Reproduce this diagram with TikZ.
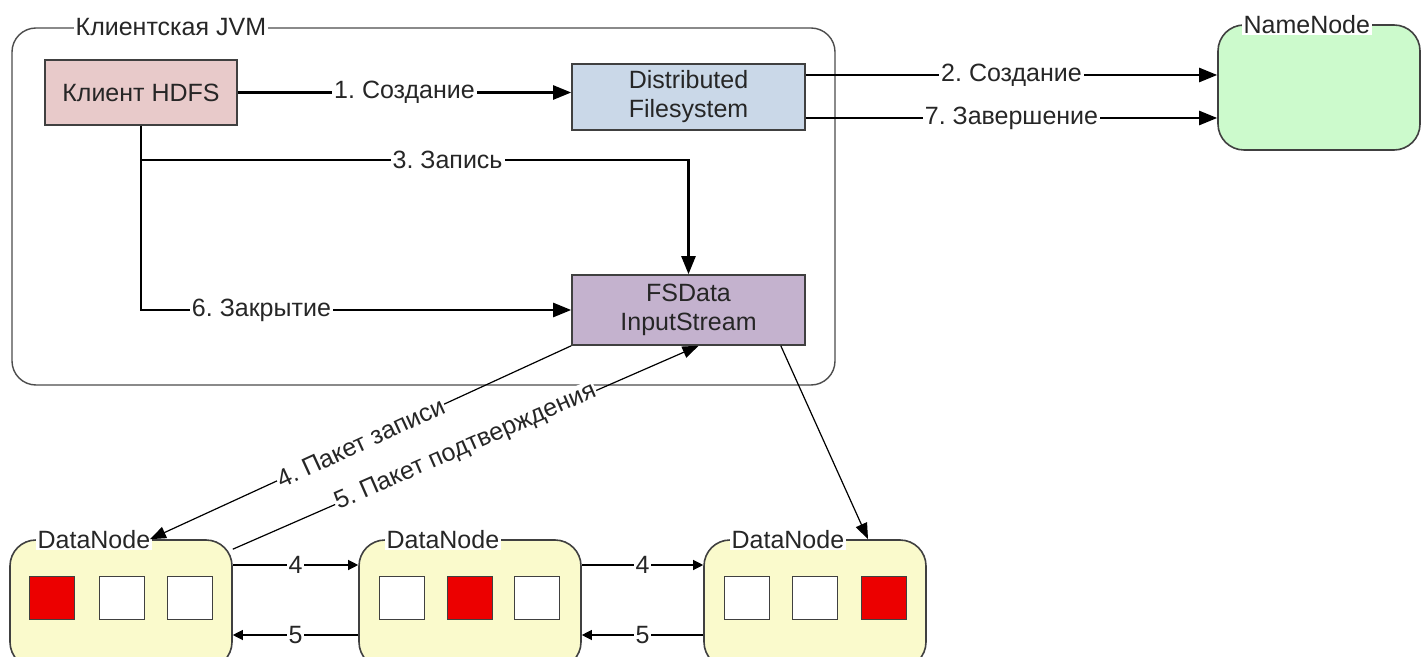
\documentclass[tikz,border=0pt]{standalone}
\usepackage{fontspec}
\setmainfont{Liberation Sans}
\usetikzlibrary{arrows.meta,positioning,shapes.geometric}

\definecolor{clientpink}{RGB}{232,202,202}
\definecolor{dfsblue}{RGB}{202,216,232}
\definecolor{streamviolet}{RGB}{196,178,206}
\definecolor{nngreen}{RGB}{204,250,204}
\definecolor{dnyellow}{RGB}{250,250,204}
\definecolor{blockred}{RGB}{236,0,0}

\begin{document}
\frenchspacing
\begin{tikzpicture}[x=0.5pt,y=-0.5pt,font=\fontsize{12.5}{14.5}\selectfont,text=black!85]
\tikzstyle{jvmbox} = [rectangle, draw=black!70, line width=0.7pt, rounded corners=12pt,
minimum width=411.5pt, minimum height=178.5pt]
\tikzstyle{title} = [fill=white, inner sep=1pt]
\tikzstyle{block} = [rectangle, draw=black!75, line width=0.8pt, align=center,
minimum width=116.5pt, minimum height=33pt]
\tikzstyle{server} = [rectangle, draw=black!75, line width=0.8pt, rounded corners=13pt]
\tikzstyle{cell} = [rectangle, draw=black!75, line width=0.7pt, fill=white,
minimum width=22.5pt, minimum height=21.5pt]
\tikzstyle{line} = [draw, line width=1.2pt, -{Triangle[length=9pt,width=7pt]}]
\tikzstyle{thinline} = [draw, line width=0.6pt, -{Triangle[length=8pt,width=6pt]}]
\tikzstyle{pipe} = [draw, line width=0.6pt, -{Triangle[length=5pt,width=5pt]}]
\tikzstyle{lbl} = [fill=white, inner sep=1pt]

\useasboundingbox (0,0) rectangle (1422,657);

% client JVM
\node [jvmbox] (jvm) at (423.5,206.5) {};
\node [title, anchor=west] (jvm_title) at ([xshift=31pt]jvm.north west) {Клиентская JVM};
\node [block, fill=clientpink, minimum width=96pt, minimum height=32.5pt] (client) at (141,92.5) {Клиент HDFS};
\node [block, fill=dfsblue] (dfs) at (688.5,97) {Distributed\\Filesystem};
\node [block, fill=streamviolet, minimum height=35pt] (stream) at (688.5,310) {FSData\\InputStream};

% namenode
\node [server, fill=nngreen, minimum width=101pt, minimum height=62.5pt] (namenode) at (1319,87.5) {};
\node [title, anchor=west] (namenode_title) at ([xshift=12pt]namenode.north west) {NameNode};

% datanodes
\node [server, fill=dnyellow, minimum width=111pt, minimum height=64pt] (dn1) at (121,604) {};
\node [server, fill=dnyellow, minimum width=111pt, minimum height=64pt] (dn2) at (470,604) {};
\node [server, fill=dnyellow, minimum width=111pt, minimum height=64pt] (dn3) at (815,604) {};
\node [title, anchor=west] (dn1_title) at ([xshift=13pt]dn1.north west) {DataNode};
\node [title, anchor=west] (dn2_title) at ([xshift=13pt]dn2.north west) {DataNode};
\node [title, anchor=west] (dn3_title) at ([xshift=13pt]dn3.north west) {DataNode};

\node [cell, fill=blockred] (dn1_a) at (52,598) {};
\node [cell] (dn1_b) at (122,598) {};
\node [cell] (dn1_c) at (190,598) {};
\node [cell] (dn2_a) at (402,598) {};
\node [cell, fill=blockred] (dn2_b) at (470,598) {};
\node [cell] (dn2_c) at (537,598) {};
\node [cell] (dn3_a) at (747,598) {};
\node [cell] (dn3_b) at (815,598) {};
\node [cell, fill=blockred] (dn3_c) at (884,598) {};

% connectors
\coordinate (fork_write) at (client.south |- 0,160);
\path [line] (client.east) -- node [lbl] {1. Создание} (client.east -| dfs.west);
\path [line] ([yshift=11pt]dfs.east) -- node [lbl] {2. Создание} ([yshift=11pt]dfs.east -| namenode.west);
\path [line] ([yshift=-10.5pt]dfs.east) -- node [lbl] {7. Завершение} ([yshift=-10.5pt]dfs.east -| namenode.west);
\path [line] (fork_write) -| node [lbl, pos=0.28] {3. Запись} (stream.north);
\path [line] (client.south) |- node [lbl, pos=0.64] {6. Закрытие} (stream.west);

\path [thinline] (stream.south west) -- node [lbl, sloped, inner sep=0.5pt] {4. Пакет записи} ([xshift=14.5pt]dn1.north);
\path [thinline] ([yshift=-5pt]dn1.north east) -- node [lbl, sloped, inner sep=0.5pt] {5. Пакет подтверждения} ([xshift=5pt]stream.south);
\path [thinline] ([xshift=-12.5pt]stream.south east) -- ([xshift=26.5pt]dn3.north);

\path [pipe] ([yshift=19.5pt]dn1.east) -- node [lbl] {4} ([yshift=19.5pt]dn1.east -| dn2.west);
\path [pipe] ([yshift=19.5pt]dn2.east) -- node [lbl] {4} ([yshift=19.5pt]dn2.east -| dn3.west);
\path [pipe] ([yshift=-15.5pt]dn2.west) -- node [lbl] {5} ([yshift=-15.5pt]dn2.west -| dn1.east);
\path [pipe] ([yshift=-15.5pt]dn3.west) -- node [lbl] {5} ([yshift=-15.5pt]dn3.west -| dn2.east);

\end{tikzpicture}
\end{document}
